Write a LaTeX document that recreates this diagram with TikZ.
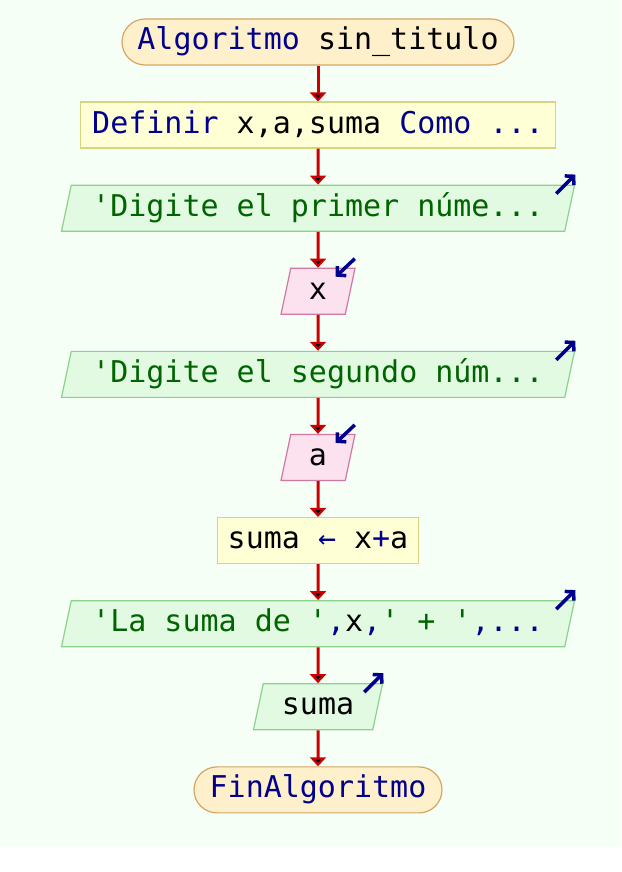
\documentclass[tikz,border=0pt]{standalone}
\usepackage{fontspec}
\setmonofont{DejaVu Sans Mono}
\usetikzlibrary{arrows.meta, shapes.geometric}

\definecolor{fondo}{RGB}{245,255,245}
\definecolor{clave}{RGB}{0,0,140}
\definecolor{cadena}{RGB}{0,100,0}
\definecolor{rojo}{RGB}{204,0,0}
\definecolor{rellini}{RGB}{255,240,204}
\definecolor{bordeini}{RGB}{212,165,100}
\definecolor{rellproc}{RGB}{255,255,214}
\definecolor{bordeproc}{RGB}{214,214,130}
\definecolor{rellsal}{RGB}{225,250,225}
\definecolor{bordesal}{RGB}{140,210,140}
\definecolor{rellent}{RGB}{252,225,238}
\definecolor{bordeent}{RGB}{210,120,160}

\newcommand{\kw}[1]{\textcolor{clave}{#1}}
\newcommand{\str}[1]{\textcolor{cadena}{#1}}

\begin{document}
\begin{tikzpicture}[
            x = 1pt, y = 1pt,
            > = {Triangle[width=16pt, length=9pt]}, % arrow head style
            node distance = 83.1pt, % distance between nodes
            font = \ttfamily\fontsize{30}{36}\selectfont,
            semithick % line style
        ]

        \tikzstyle{every node}=[
            inner sep = 0pt,
            text height = 22pt,
            text depth = 6pt,
            minimum height = 46pt,
            line width = 1.2pt
        ]
        \tikzstyle{inicio}=[draw = bordeini, fill = rellini, rounded corners = 23pt]
        \tikzstyle{proceso}=[draw = bordeproc, fill = rellproc]
        \tikzstyle{paralelo}=[trapezium, trapezium left angle = 70.8, trapezium right angle = 109.2,
            trapezium stretches body]
        \tikzstyle{salida}=[paralelo, draw = bordesal, fill = rellsal]
        \tikzstyle{entrada}=[paralelo, draw = bordeent, fill = rellent]
        \tikzstyle{flujo}=[->, draw = rojo, line width = 3pt]
        \tikzstyle{icono}=[-{Straight Barb[length=6pt, width=13pt]}, draw = clave, line width = 3.5pt]

        \useasboundingbox (0,0) rectangle (621,872);
        \fill[fondo] (0,25) rectangle (621,872);

	\node[inicio, minimum width = 392pt] (ini) at (318,830) {\kw{Algoritmo} sin\_titulo};
	\node[proceso, minimum width = 475pt] (def) [below of=ini] {\kw{Definir} x,a,suma \kw{Como ...}};
	\node[salida, minimum width = 513pt] (sal1) [below of=def] {\str{'Digite el primer núme...}};
	\node[entrada, minimum width = 74pt] (entx) [below of=sal1] {x};
	\node[salida, minimum width = 513pt] (sal2) [below of=entx] {\str{'Digite el segundo núm...}};
	\node[entrada, minimum width = 74pt] (enta) [below of=sal2] {a};
	\node[proceso, minimum width = 201pt] (asig) [below of=enta] {suma \kw{←} x\kw{+}a};
	\node[salida, minimum width = 513pt] (sal3) [below of=asig] {\str{'La suma de '}\kw{,}x\kw{,}\str{' + '}\kw{,...}};
	\node[salida, minimum width = 129pt] (sal4) [below of=sal3] {suma};
	\node[inicio, minimum width = 248pt] (fin) [below of=sal4] {\kw{FinAlgoritmo}};

        \path[flujo] (ini) edge (def);
        \path[flujo] (def) edge (sal1);
        \path[flujo] (sal1) edge (entx);
        \path[flujo] (entx) edge (sal2);
        \path[flujo] (sal2) edge (enta);
        \path[flujo] (enta) edge (asig);
        \path[flujo] (asig) edge (sal3);
        \path[flujo] (sal3) edge (sal4);
        \path[flujo] (sal4) edge (fin);

        % input / output marks
        \draw[icono] ([shift={(-19,-9)}]sal1.top right corner) -- ++(19,19);
        \draw[icono] ([shift={(-19,-9)}]sal2.top right corner) -- ++(19,19);
        \draw[icono] ([shift={(-19,-9)}]sal3.top right corner) -- ++(19,19);
        \draw[icono] ([shift={(-19,-9)}]sal4.top right corner) -- ++(19,19);
        \draw[icono] ([shift={(-1,9)}]entx.top right corner) -- ++(-19,-18);
        \draw[icono] ([shift={(-1,9)}]enta.top right corner) -- ++(-19,-18);

    \end{tikzpicture}
\end{document}
